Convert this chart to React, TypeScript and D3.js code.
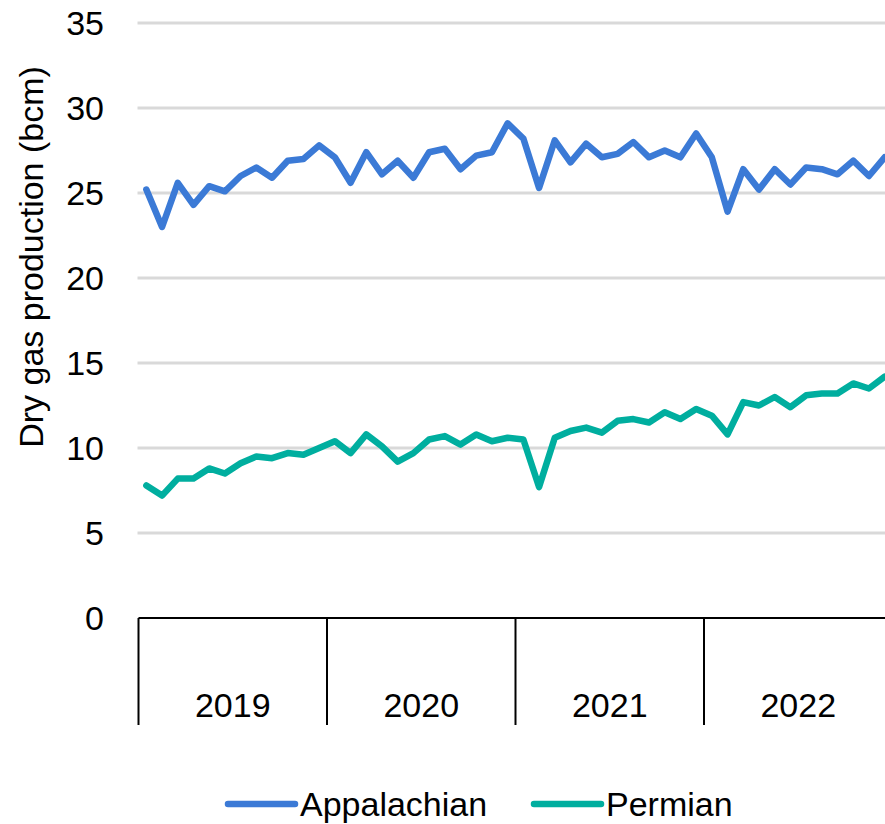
import React, {useEffect, useRef} from 'react';
import * as d3 from 'd3';

// monthly dry gas production, Jan 2019 - Dec 2022
const years = ['2019', '2020', '2021', '2022'];

const appalachian = [
    25.2, 23.0, 25.6, 24.3, 25.4, 25.1, 26.0, 26.5, 25.9, 26.9, 27.0, 27.8,
    27.1, 25.6, 27.4, 26.1, 26.9, 25.9, 27.4, 27.6, 26.4, 27.2, 27.4, 29.1,
    28.2, 25.3, 28.1, 26.8, 27.9, 27.1, 27.3, 28.0, 27.1, 27.5, 27.1, 28.5,
    27.1, 23.9, 26.4, 25.2, 26.4, 25.5, 26.5, 26.4, 26.1, 26.9, 26.0, 27.1
];

const permian = [
    7.8, 7.2, 8.2, 8.2, 8.8, 8.5, 9.1, 9.5, 9.4, 9.7, 9.6, 10.0,
    10.4, 9.7, 10.8, 10.1, 9.2, 9.7, 10.5, 10.7, 10.2, 10.8, 10.4, 10.6,
    10.5, 7.7, 10.6, 11.0, 11.2, 10.9, 11.6, 11.7, 11.5, 12.1, 11.7, 12.3,
    11.9, 10.8, 12.7, 12.5, 13.0, 12.4, 13.1, 13.2, 13.2, 13.8, 13.5, 14.2
];

const yTicks = [0, 5, 10, 15, 20, 25, 30, 35];

const seriesNames = ['Appalachian', 'Permian'];
const colors = ['#3b7ad6', '#00ae9f'];

function App() {
    const ref = useRef(null);

    const width = 885;
    const height = 824;
    const left = 138.5;
    const yearW = 188.5;
    const font = 'Liberation Sans, Arial, sans-serif';

    useEffect(() => {
        const root = d3.select(ref.current);
        root.selectAll('*').remove();

        const svg = root.append('svg')
            .attr('width', width)
            .attr('height', height)
            .style('display', 'block');

        const months = d3.range(appalachian.length);

        const x = d3.scalePoint()
            .domain(months)
            .range([left, left + yearW * years.length])
            .padding(0.5);

        const xYear = d3.scaleBand()
            .domain(years)
            .range([left, left + yearW * years.length]);

        const y = d3.scaleLinear()
            .domain([0, 35])
            .range([618, 23]);

        // gridlines
        svg.append('g')
            .selectAll('line')
            .data(yTicks.filter(d => d > 0))
            .enter()
            .append('line')
            .attr('x1', left - 1)
            .attr('x2', width)
            .attr('y1', d => y(d))
            .attr('y2', d => y(d))
            .attr('stroke', '#d9d9d9')
            .attr('stroke-width', 3);

        // y tick labels
        svg.append('g')
            .selectAll('text')
            .data(yTicks)
            .enter()
            .append('text')
            .attr('x', 104)
            .attr('y', d => y(d))
            .attr('dy', '0.36em')
            .attr('text-anchor', 'end')
            .attr('font-family', font)
            .attr('font-size', 34)
            .attr('fill', '#000')
            .text(d => d);

        // y title
        svg.append('text')
            .attr('transform', 'translate(43, 257) rotate(-90)')
            .attr('text-anchor', 'middle')
            .attr('font-family', font)
            .attr('font-size', 34)
            .attr('fill', '#000')
            .text('Dry gas production (bcm)');

        // x axis + year separators
        svg.append('line')
            .attr('x1', left)
            .attr('x2', width)
            .attr('y1', y(0))
            .attr('y2', y(0))
            .attr('stroke', '#000')
            .attr('stroke-width', 2);

        svg.append('g')
            .selectAll('line')
            .data(years)
            .enter()
            .append('line')
            .attr('x1', d => xYear(d))
            .attr('x2', d => xYear(d))
            .attr('y1', y(0))
            .attr('y2', 725)
            .attr('stroke', '#000')
            .attr('stroke-width', 2);

        svg.append('g')
            .selectAll('text')
            .data(years)
            .enter()
            .append('text')
            .attr('x', d => xYear(d) + xYear.bandwidth() / 2)
            .attr('y', 717)
            .attr('text-anchor', 'middle')
            .attr('font-family', font)
            .attr('font-size', 34)
            .attr('fill', '#000')
            .text(d => d);

        // lines
        const line = d3.line()
            .x((d, i) => x(i))
            .y(d => y(d));

        [appalachian, permian].forEach((data, k) => {
            svg.append('path')
                .datum(data)
                .attr('d', line)
                .attr('fill', 'none')
                .attr('stroke', colors[k])
                .attr('stroke-width', 6.5)
                .attr('stroke-linejoin', 'round')
                .attr('stroke-linecap', 'round');
        });

        // legend
        const legendX = [228, 534];
        const legend = svg.append('g')
            .selectAll('g')
            .data(seriesNames)
            .enter()
            .append('g')
            .attr('transform', (d, i) => `translate(${legendX[i]}, 804)`);

        legend.append('line')
            .attr('x1', 0)
            .attr('x2', 67)
            .attr('stroke', (d, i) => colors[i])
            .attr('stroke-width', 6.5)
            .attr('stroke-linecap', 'round');

        legend.append('text')
            .attr('x', 72)
            .attr('dy', '0.36em')
            .attr('font-family', font)
            .attr('font-size', 34)
            .attr('fill', '#000')
            .text(d => d);
    }, []);

    return <div ref={ref} style={{position: 'absolute', left: 0, top: 0}}/>;
}

export default App;
